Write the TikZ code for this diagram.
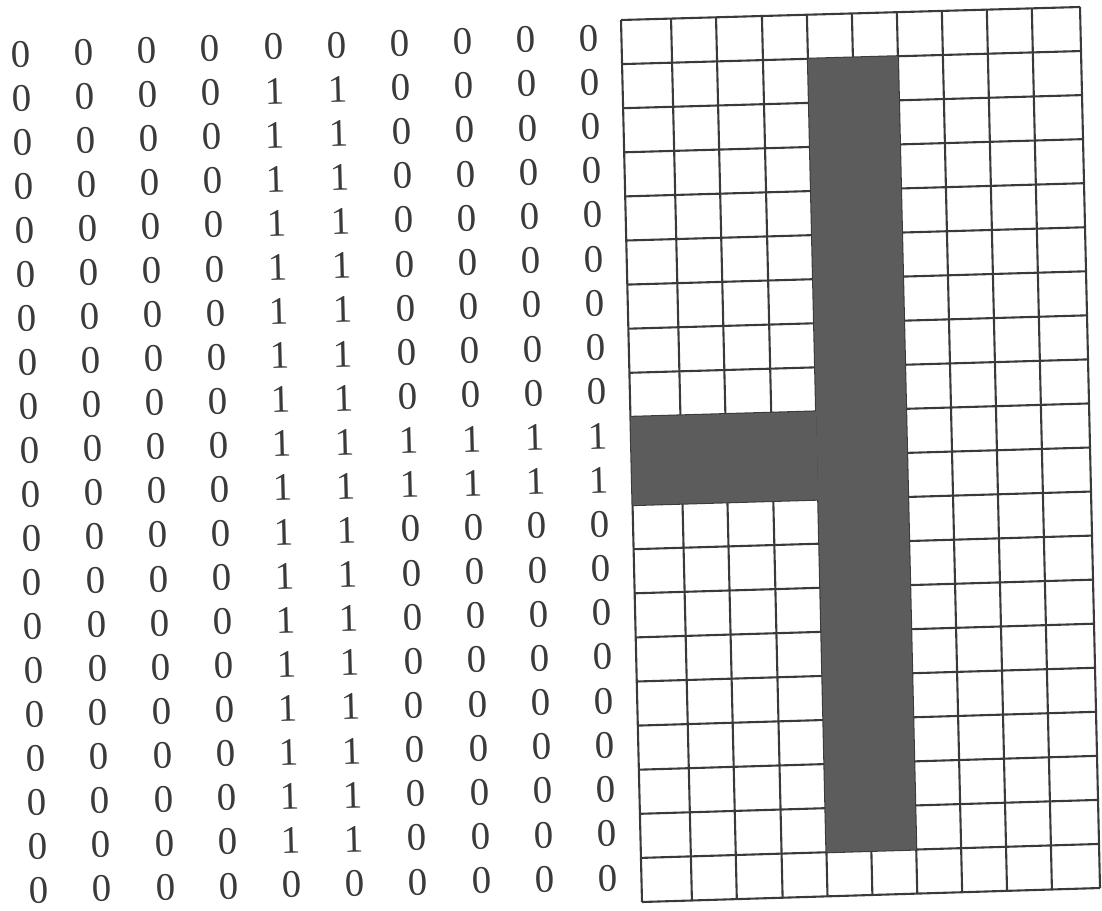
\documentclass[tikz,border=0pt]{standalone}
\usepackage{fontspec}
\setmainfont{Liberation Serif}
\usetikzlibrary{calc}
\definecolor{ink}{HTML}{3A3A3A}
\definecolor{shade}{HTML}{5C5C5C}
\begin{document}
\begin{tikzpicture}[x=1pt,y=-1pt,
  digit/.style={inner sep=0pt, font=\fontsize{39}{46}\selectfont, text=ink, rotate=1.5},
  gridline/.style={draw=ink, line width=2.1pt},
  darkcell/.style={fill=shade}]
\useasboundingbox (0,0) rectangle (1102,910);
% grid corners
\coordinate (TL) at (621,20);
\coordinate (TR) at (1080,7);
\coordinate (BL) at (642,902);
\coordinate (BR) at (1100,888);
% grid vertices
\foreach \i/\f in {0/0,1/0.109,2/0.207,3/0.307,4/0.405,5/0.503,6/0.601,7/0.699,8/0.797,9/0.895,10/1}{
  \foreach \j in {0,...,20}{
    \coordinate (g\i-\j) at ($($(TL)!\f!(TR)$)!\j/20!($(BL)!\f!(BR)$)$);
  }
}
% grid lines
\foreach \i in {0,...,10}{ \draw[gridline] (g\i-0) -- (g\i-20); }
\foreach \j in {0,...,20}{ \draw[gridline] (g0-\j) -- (g10-\j); }
% dark cells
\fill[darkcell] (g4-1) -- (g6-1) -- (g6-19) -- (g4-19) -- cycle;
\fill[darkcell] (g0-9) -- (g4-9) -- (g4-11) -- (g0-11) -- cycle;
% matrix anchors
\coordinate (A) at (21,54);
\coordinate (B) at (589,38);
\coordinate (C) at (39,890);
\coordinate (D) at (608,878);
\foreach \r/\row in {
  0/{0,0,0,0,0,0,0,0,0,0},
  1/{0,0,0,0,1,1,0,0,0,0},
  2/{0,0,0,0,1,1,0,0,0,0},
  3/{0,0,0,0,1,1,0,0,0,0},
  4/{0,0,0,0,1,1,0,0,0,0},
  5/{0,0,0,0,1,1,0,0,0,0},
  6/{0,0,0,0,1,1,0,0,0,0},
  7/{0,0,0,0,1,1,0,0,0,0},
  8/{0,0,0,0,1,1,0,0,0,0},
  9/{0,0,0,0,1,1,1,1,1,1},
  10/{0,0,0,0,1,1,1,1,1,1},
  11/{0,0,0,0,1,1,0,0,0,0},
  12/{0,0,0,0,1,1,0,0,0,0},
  13/{0,0,0,0,1,1,0,0,0,0},
  14/{0,0,0,0,1,1,0,0,0,0},
  15/{0,0,0,0,1,1,0,0,0,0},
  16/{0,0,0,0,1,1,0,0,0,0},
  17/{0,0,0,0,1,1,0,0,0,0},
  18/{0,0,0,0,1,1,0,0,0,0},
  19/{0,0,0,0,0,0,0,0,0,0}}{
  \foreach \v [count=\c from 0] in \row {
    \node[digit] (d\r-\c) at ($($(A)!\c/9!(B)$)!\r/19!($(C)!\c/9!(D)$)$) {\v};
  }
}
\end{tikzpicture}
\end{document}
